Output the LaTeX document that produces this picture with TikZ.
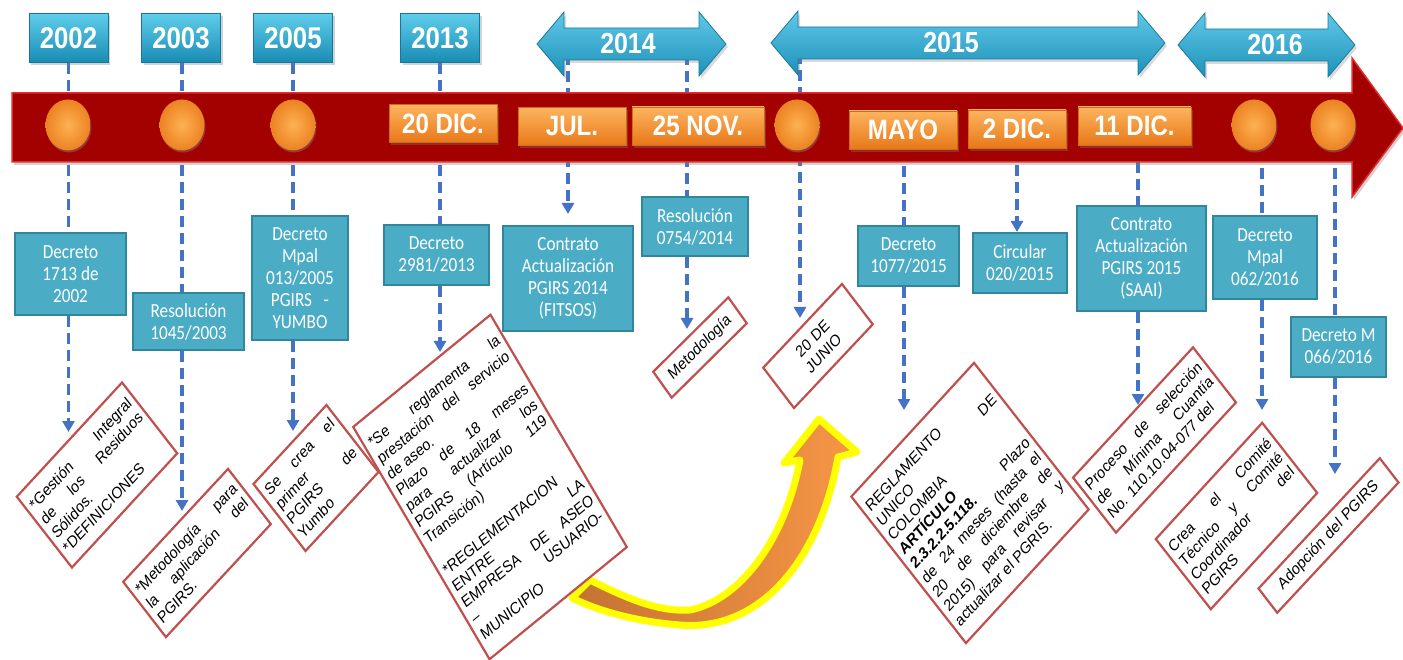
\documentclass[tikz,border=0pt]{standalone}
\usepackage{fontspec}
\setmainfont{Liberation Sans}
\newfontfamily\narrowsans[FakeStretch=0.86]{Liberation Sans}
\newfontfamily\calib[FakeStretch=0.86]{Carlito}
\usepackage{tikz}
\usetikzlibrary{shadows}
\usetikzlibrary{positioning}
\usetikzlibrary{arrows.meta,shapes}
\usetikzlibrary{calc,backgrounds}
\tolerance=10000
\hbadness=10000
\definecolor{yeartop}{RGB}{95,205,235}
\definecolor{yearbot}{RGB}{25,140,180}
\definecolor{spantop}{RGB}{95,200,232}
\definecolor{spanbot}{RGB}{30,145,185}
\definecolor{orgtop}{RGB}{252,180,95}
\definecolor{orgbot}{RGB}{232,120,25}
\definecolor{dotin}{RGB}{253,178,82}
\definecolor{dotout}{RGB}{236,130,34}
\definecolor{barred}{RGB}{163,0,0}
\definecolor{barhi}{RGB}{225,45,45}
\definecolor{tealfill}{RGB}{75,172,198}
\definecolor{tealline}{RGB}{49,133,156}
\definecolor{dashblue}{RGB}{68,114,196}
\definecolor{noteline}{RGB}{192,80,77}
\definecolor{arrbrown}{RGB}{196,115,50}
\definecolor{arrorange}{RGB}{247,150,70}
\definecolor{arryellow}{RGB}{255,255,0}
\tikzstyle{yearbox}=[rectangle,top color=yeartop,bottom color=yearbot,draw=yearbot!85!black,line width=1,minimum width=79,minimum height=49,inner sep=0,text=white,font=\narrowsans\bfseries\fontsize{30}{30}\selectfont,drop shadow={opacity=0.35,shadow xshift=2pt,shadow yshift=-3pt}]
\tikzstyle{spanarrow}=[top color=spantop,bottom color=spanbot,draw=spanbot!85!black,line width=0.8,drop shadow={opacity=0.3,shadow xshift=2pt,shadow yshift=-3pt}]
\tikzstyle{spanlabel}=[inner sep=0,text=white,font=\narrowsans\bfseries\fontsize{29}{29}\selectfont]
\tikzstyle{datebox}=[rectangle,top color=orgtop,bottom color=orgbot,draw=orgbot!90!black,line width=0.8,minimum height=38,inner sep=0,text=white,font=\narrowsans\bfseries\fontsize{28}{28}\selectfont,drop shadow={opacity=0.35,shadow xshift=2pt,shadow yshift=-3pt}]
\tikzstyle{eventdot}=[ellipse,minimum width=45,minimum height=51,inner sep=0,inner color=dotin,outer color=dotout,drop shadow={opacity=0.45,shadow xshift=1pt,shadow yshift=-2pt}]
\tikzstyle{tealbox}=[rectangle,fill=tealfill,draw=tealline,line width=2,inner sep=2,text=white,align=center,font=\calib\fontsize{20}{22}\selectfont]
\tikzstyle{notebox}=[rectangle,fill=white,draw=noteline,line width=2.2,inner sep=5,text=black,align=justify,font=\fontsize{14}{16.5}\selectfont]
\tikzstyle{dashline}=[dashblue,line width=3.3,dash pattern=on 11pt off 6pt]
\tikzstyle{dasharrow}=[dashline,-{Triangle[length=11pt,width=12pt]}]
\tikzstyle{bigarrow}=[draw=arryellow,line width=7,line join=round,left color=arrbrown,right color=arrorange]
\tikzstyle{timebar}=[fill=barred,draw=barhi,line width=1.5,drop shadow={opacity=0.35,shadow xshift=2pt,shadow yshift=-3pt}]
\begin{document}
\begin{tikzpicture}[x=1pt,y=-1pt]
\useasboundingbox (0,0) rectangle (1403,660);

    \foreach \x/\yr in {68.5/2002, 181/2003, 293/2005, 440/2013}
        \node[yearbox] (y\yr) at (\x,38) {\yr};

    \foreach \l/\r/\tx/\yc/\yr in {537/726/628/44/2014, 771/1165/951/43/2015, 1178/1355/1275/45/2016}{
        \path[spanarrow] (\l,\yc) -- (\l+27,\yc-32) -- (\l+27,\yc-16) -- (\r-27,\yc-16) -- (\r-27,\yc-32) -- (\r,\yc) -- (\r-27,\yc+32) -- (\r-27,\yc+16) -- (\l+27,\yc+16) -- (\l+27,\yc+32) -- cycle;
        \node[spanlabel] (a\yr) at (\tx,\yc) {\yr};
    }

    \foreach \x/\name in {68/p2002, 182/p2003, 293/p2005, 797/pjun, 1254/p062, 1333/p066}
        \node[eventdot] (\name) at (\x,125) {};

    \foreach \x/\y/\w/\name/\txt in {443/123.5/108/dic20/20 DIC., 572/126.5/108/jul/JUL., 698/126/132/nov25/25 NOV., 903/130/108/mayo/MAYO, 1017/129/98/dic2/2 DIC., 1134.5/126/113/dic11/11 DIC.}
        \node[datebox, minimum width=\w] (\name) at (\x,\y) {\txt};

\node[tealbox, minimum width=111, minimum height=82] (d1713) at (70.5,274) {Decreto\\1713 de\\2002};
\node[tealbox, minimum width=111, minimum height=57] (r1045) at (188.5,321.5) {Resolución\\1045/2003};
\node[tealbox, minimum width=96, minimum height=124] (d013) at (300,278) {Decreto\\Mpal\\013/2005\\PGIRS\ \ \ -\\YUMBO};
\node[tealbox, minimum width=105, minimum height=60] (d2981) at (436.5,255) {Decreto\\2981/2013};
\node[tealbox, minimum width=130, minimum height=105] (cfit) at (568,278.5) {Contrato\\Actualización\\PGIRS 2014\\(FITSOS)};
\node[tealbox, minimum width=106, minimum height=59] (r0754) at (695,226.5) {Resolución\\0754/2014};
\node[tealbox, minimum width=101, minimum height=60] (d1077) at (908.5,256) {Decreto\\1077/2015};
\node[tealbox, minimum width=94, minimum height=60] (c020) at (1020,263) {Circular\\020/2015};
\node[tealbox, minimum width=129, minimum height=105] (csaai) at (1141.5,258.5) {Contrato\\Actualización\\PGIRS 2015\\(SAAI)};
\node[tealbox, minimum width=104, minimum height=83] (d062) at (1265,257.5) {Decreto\\Mpal\\062/2016};
\node[tealbox, minimum width=95, minimum height=60] (d066) at (1338.5,347) {Decreto M\\066/2016};

\path[bigarrow] (800,460) -- (784,463) -- (819,419) -- (857,452) -- (838,457) .. controls (820,560) and (760,632) .. (680,625) .. controls (640,622) and (600,612) .. (572,598) -- (590,580) .. controls (630,600) and (660,612) .. (690,610) .. controls (740,600) and (785,540) .. (800,460) -- cycle;

\node[notebox, yscale=1.18, rotate=42.6, text width=133, minimum height=81.5] (ngest) at (97,475) {*Gestión Integral\linebreak de los Residuos\linebreak Sólidos.\par *DEFINICIONES};
\node[notebox, yscale=1.18, rotate=42.4, text width=132, minimum height=63.4] (nmet) at (197,553) {*Metodología para\linebreak la aplicación del\linebreak PGIRS.};
\node[notebox, yscale=1.18, rotate=42.5, text width=89, minimum height=77] (nyum) at (316,478) {Se crea el\linebreak primer\linebreak PGIRS de\linebreak Yumbo};
\node[notebox, yscale=1.18, rotate=34.7, text width=157, minimum height=239.5] (nregl) at (490,487) {*Se reglamenta la\linebreak prestación del servicio\linebreak de aseo.\par Plazo de 18 meses\linebreak para actualizar los\linebreak PGIRS (Artículo 119\linebreak Transición)\par\vspace{16pt}*REGLEMENTACION\linebreak ENTRE LA\linebreak EMPRESA DE ASEO\linebreak – USUARIO-\linebreak MUNICIPIO};
\node[notebox, yscale=1.18, rotate=40, text width=88, minimum height=28.7, align=center] (nmetod) at (700,347.5) {Metodología};
\node[notebox, yscale=1.18, rotate=42, text width=96, minimum height=46, align=center] (njun) at (818,346) {20 DE\\JUNIO};
\node[notebox, yscale=1.18, rotate=42.7, text width=157, minimum height=169] (nunico) at (970,503) {REGLAMENTO\linebreak UNICO DE\linebreak COLOMBIA\linebreak \textbf{ARTÍCULO}\linebreak \textbf{2.3.2.2.5.118.} Plazo\linebreak de 24 meses (hasta el\linebreak 20 de diciembre de\linebreak 2015) para revisar y\linebreak actualizar el PGRIS.};
\node[notebox, yscale=1.18, rotate=42.6, text width=153, minimum height=63.4] (nproc) at (1154.5,440) {Proceso de selección\linebreak de Mínima Cuantía\linebreak No. 110.10.04-077 del};
\node[notebox, yscale=1.18, rotate=42.8, text width=135, minimum height=81] (ncomite) at (1236.5,516) {Crea el Comité\linebreak Técnico y Comité\linebreak Coordinador del\linebreak PGIRS};
\node[notebox, yscale=1.18, rotate=42.3, text width=154, minimum height=27.8, align=center] (nadop) at (1328.5,535.5) {Adopción del PGIRS};

\coordinate (t1713) at (68.5,432);
\coordinate (t1045) at (182,511);
\coordinate (t013) at (293,431);
\coordinate (t2981) at (440,352);
\coordinate (tfit) at (568,214);
\coordinate (t0754) at (687,329);
\coordinate (tjun) at (800,318);
\coordinate (t1077) at (904,410);
\coordinate (tsaai) at (1138,405);
\coordinate (t062) at (1262,410);
\coordinate (t066) at (1335,474);

\begin{pgfonlayer}{background}
    \foreach \tip/\src/\dst in {t1713/y2002/d1713, t1045/y2003/r1045, t013/y2005/d013, t2981/y2013/d2981, t0754/a2014/r0754, t1077/mayo/d1077, tsaai/dic11/csaai, t062/p062/d062, t066/p066/d066}{
        \draw[dashline] (\tip |- \src.south) -- (\tip |- \dst.north);
        \draw[dasharrow] (\tip |- \dst.south) -- (\tip);
    }
\draw[dasharrow] (tfit |- a2014.south) -- (tfit);
\draw[dasharrow] (tjun |- a2015.south) -- (tjun);
\draw[dasharrow] (dic2.south) -- (dic2.south |- c020.north);

\path[timebar] (12,93) -- (1352,93) -- (1352,58) -- (1403,128) -- (1352,197) -- (1352,162) -- (12,162) -- cycle;
\end{pgfonlayer}

\end{tikzpicture}
\end{document}
